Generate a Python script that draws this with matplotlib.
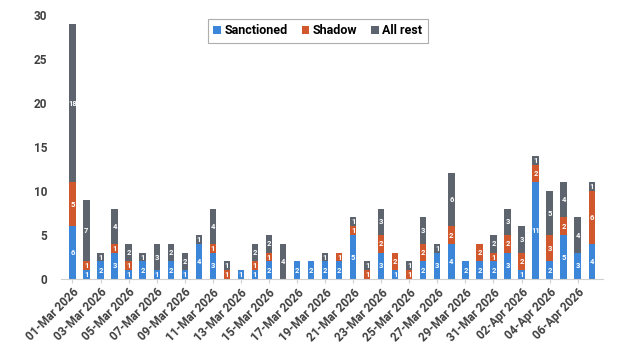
import matplotlib.pyplot as plt
import numpy as np
import pandas as pd

# daily counts
dates = pd.date_range("2026-03-01", "2026-04-07", freq="D")
sanctioned = [6, 1, 2, 3, 1, 2, 1, 2, 1, 4, 3, 0, 1, 1, 2, 0, 2, 2, 2, 2,
              5, 0, 3, 1, 0, 2, 3, 4, 2, 2, 2, 3, 1, 11, 2, 5, 3, 4]
shadow = [5, 1, 0, 1, 1, 0, 0, 0, 0, 0, 1, 1, 0, 1, 1, 0, 0, 0, 0, 1,
          1, 1, 2, 2, 1, 2, 0, 2, 0, 2, 1, 2, 2, 2, 3, 2, 0, 6]
all_rest = [18, 7, 1, 4, 2, 1, 3, 2, 2, 1, 4, 1, 0, 2, 2, 4, 0, 0, 1, 0,
            1, 1, 3, 0, 1, 3, 1, 6, 0, 0, 2, 3, 3, 1, 5, 4, 4, 1]

series = [("Sanctioned", sanctioned, "#3b86d8"),
          ("Shadow", shadow, "#d0582c"),
          ("All rest", all_rest, "#5d646e")]

plt.rcParams['font.family'] = ['Roboto', 'DejaVu Sans']

fig, ax = plt.subplots(figsize=(6.38, 3.51), dpi=100)
fig.subplots_adjust(left=0.096, right=0.945, top=0.957, bottom=0.205)

x = np.arange(len(dates))
bottom = np.zeros(len(dates))
for name, vals, color in series:
    vals = np.array(vals)
    ax.bar(x, vals, width=0.45, bottom=bottom, color=color, label=name)
    # value labels inside each segment
    for xi, v, b in zip(x, vals, bottom):
        if v > 0:
            ax.text(xi, b + v / 2, str(v), ha='center', va='center',
                    color='white', fontsize=5.5, fontweight='bold')
    bottom += vals

ax.set_ylim(0, 30)
ax.set_yticks(range(0, 31, 5))
ax.set_xlim(-0.8, len(dates) - 0.2)
ax.set_xticks(x[::2])
ax.set_xticklabels([d.strftime("%d-%b %Y") for d in dates[::2]],
                   rotation=45, ha='right', rotation_mode='anchor')
for lbl in ax.get_xticklabels() + ax.get_yticklabels():
    lbl.set_fontweight('bold')
    lbl.set_color('#404040')
    lbl.set_fontsize(8.5)

for side in ['top', 'right', 'left']:
    ax.spines[side].set_visible(False)
ax.spines['bottom'].set_color('#d0d0d0')
ax.tick_params(axis='y', length=0, pad=10)
ax.tick_params(axis='x', length=3, color='#d0d0d0', pad=2)

leg = ax.legend(loc='upper center', bbox_to_anchor=(0.474, 1.01), ncol=3,
                frameon=True, fancybox=False, handlelength=0.6,
                handleheight=0.6, handletextpad=0.3, columnspacing=1.1,
                borderpad=0.45, prop={'weight': 'bold', 'size': 9})
leg.get_frame().set_edgecolor('#999999')
leg.get_frame().set_linewidth(0.8)

plt.savefig("out.png", dpi=100)
